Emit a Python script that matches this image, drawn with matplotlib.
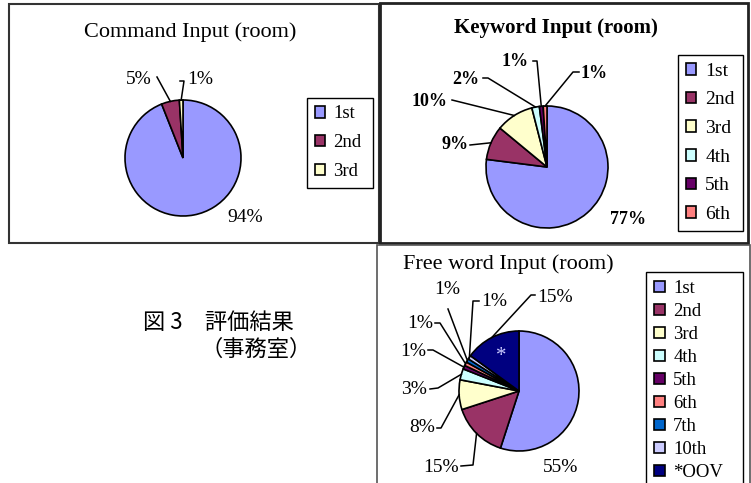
import matplotlib
matplotlib.use("Agg")
import matplotlib.pyplot as plt
from matplotlib.patches import Rectangle
import numpy as np

W, H = 751, 483
plt.rcParams['font.family'] = ['Liberation Serif', 'DejaVu Serif']

# ---------------- data ----------------
cmd_titles = "Command Input (room)"
cmd_cats = ["1st", "2nd", "3rd"]
cmd_vals = [94, 5, 1]

kw_title = "Keyword Input (room)"
kw_cats = ["1st", "2nd", "3rd", "4th", "5th", "6th"]
kw_vals = [77, 9, 10, 2, 1, 1]

fw_title = "Free word Input (room)"
fw_cats = ["1st", "2nd", "3rd", "4th", "5th", "6th", "7th", "10th", "*OOV"]
fw_vals = [55, 15, 8, 3, 1, 1, 1, 1, 15]

palette = {"1st": "#9999FF", "2nd": "#993366", "3rd": "#FFFFCC", "4th": "#CCFFFF",
           "5th": "#660066", "6th": "#FF8080", "7th": "#0066CC", "10th": "#CCCCFF",
           "*OOV": "#000080"}

caption_lines = ["図 3\u3000評価結果", "（事務室）"]

fig = plt.figure(figsize=(W / 100, H / 100), dpi=100)


def fx(x):
    return x / W


def fy(y):
    return 1 - y / H


def box(x0, y0, x1, y1, lw, color):
    fig.patches.append(Rectangle((fx(x0), fy(y1)), (x1 - x0) / W, (y1 - y0) / H,
                                 transform=fig.transFigure, fill=False,
                                 lw=lw, edgecolor=color, zorder=0))


def make_pie(cx, cy, R, vals, cats):
    ax = fig.add_axes([fx(cx - R), fy(cy + R), 2 * R / W, 2 * R / H])
    wedges, _ = ax.pie(vals, colors=[palette[c] for c in cats], startangle=90,
                       counterclock=False, radius=1,
                       wedgeprops=dict(edgecolor="black", linewidth=1.2))
    for w in wedges:
        w.set_clip_on(False)
    ax.set_xlim(-1, 1)
    ax.set_ylim(-1, 1)
    ax.set_aspect("equal")
    ax.axis("off")
    return ax, wedges


def labels(ax, wedges, vals, cx, cy, R, specs, fs, weight="normal"):
    for w, v, sp in zip(wedges, vals, specs):
        if sp is None:
            continue
        (tx, ty), pts = sp
        fig.text(fx(tx), fy(ty), f"{v}%", ha="center", va="center",
                 fontsize=fs, fontweight=weight)
        if pts:
            mid = np.deg2rad((w.theta1 + w.theta2) / 2)
            xs = [(p[0] - cx) / R for p in pts] + [np.cos(mid)]
            ys = [(cy - p[1]) / R for p in pts] + [np.sin(mid)]
            ax.plot(xs, ys, color="black", lw=1.1, clip_on=False)


def legend(wedges, cats, x, y, width, fs, spacing, pad=0.4):
    fig.legend(wedges, cats, loc="upper left", mode="expand",
               bbox_to_anchor=(fx(x), fy(y), width / W, 0),
               bbox_transform=fig.transFigure,
               borderaxespad=0, fontsize=fs, frameon=True, fancybox=False,
               edgecolor="black", framealpha=1, handlelength=0.55,
               handleheight=0.55, handletextpad=0.45, borderpad=pad,
               labelspacing=spacing)


# ---------------- panel 1 ----------------
box(9, 4, 379, 243, 1.5, "#333333")
fig.text(fx(190), fy(32), cmd_titles, ha="center", va="center", fontsize=16)
c1 = (183, 158, 58)
ax1, w1 = make_pie(*c1, cmd_vals, cmd_cats)
labels(ax1, w1, cmd_vals, *c1,
       [((245, 217), None),
        ((139, 80), [(157, 77)]),
        ((200, 80), [(180, 81), (184, 81)])], 14)
legend(w1, cmd_cats, 307, 98, 66, 13.5, 0.63)

# ---------------- panel 2 ----------------
box(380, 3, 748, 243, 2.0, "#222222")
fig.text(fx(556), fy(28), kw_title, ha="center", va="center", fontsize=15,
         fontweight="bold")
c2 = (547, 167, 61)
ax2, w2 = make_pie(*c2, kw_vals, kw_cats)
labels(ax2, w2, kw_vals, *c2,
       [((628, 220), None),
        ((455, 145), [(470, 145)]),
        ((430, 102), [(452, 100)]),
        ((466, 79), [(483, 78), (488, 78)]),
        ((515, 62), [(533, 61), (537, 61)]),
        ((594, 73), [(579, 72), (573, 72)])], 13, "bold")
legend(w2, kw_cats, 678, 55, 65, 14, 0.6)

# ---------------- panel 3 ----------------
box(377, 245, 750, 490, 1.2, "#555555")
fig.text(fx(508), fy(264), fw_title, ha="center", va="center", fontsize=16)
c3 = (519, 391, 60)
ax3, w3 = make_pie(*c3, fw_vals, fw_cats)
labels(ax3, w3, fw_vals, *c3,
       [((561, 467), None),
        ((441, 467), [(461, 466), (473, 465)]),
        ((422, 428), [(437, 428), (441, 428)]),
        ((414, 389), [(430, 389), (438, 388)]),
        ((413, 351), [(428, 350), (433, 350)]),
        ((420, 324), [(435, 323), (440, 323)]),
        ((447, 289), [(448, 309)]),
        ((494, 302), [(479, 301), (473, 301)]),
        ((555, 297), [(535, 295), (531, 295)])], 14)
oov = w3[-1]
mid = np.deg2rad((oov.theta1 + oov.theta2) / 2)
ax3.text(0.65 * np.cos(mid), 0.65 * np.sin(mid), "*", color="#CCCCFF",
         ha="center", va="center", fontsize=15)
legend(w3, fw_cats, 646, 272, 97, 13.5, 0.32, pad=0.45)

# ---------------- caption ----------------
cjk = ['Noto Sans CJK JP', 'DejaVu Sans']
fig.text(fx(143), fy(322), caption_lines[0], ha="left", va="center",
         fontsize=16, family=cjk)
fig.text(fx(312), fy(349), caption_lines[1], ha="right", va="center",
         fontsize=16, family=cjk)

fig.savefig("out.png", dpi=100)
